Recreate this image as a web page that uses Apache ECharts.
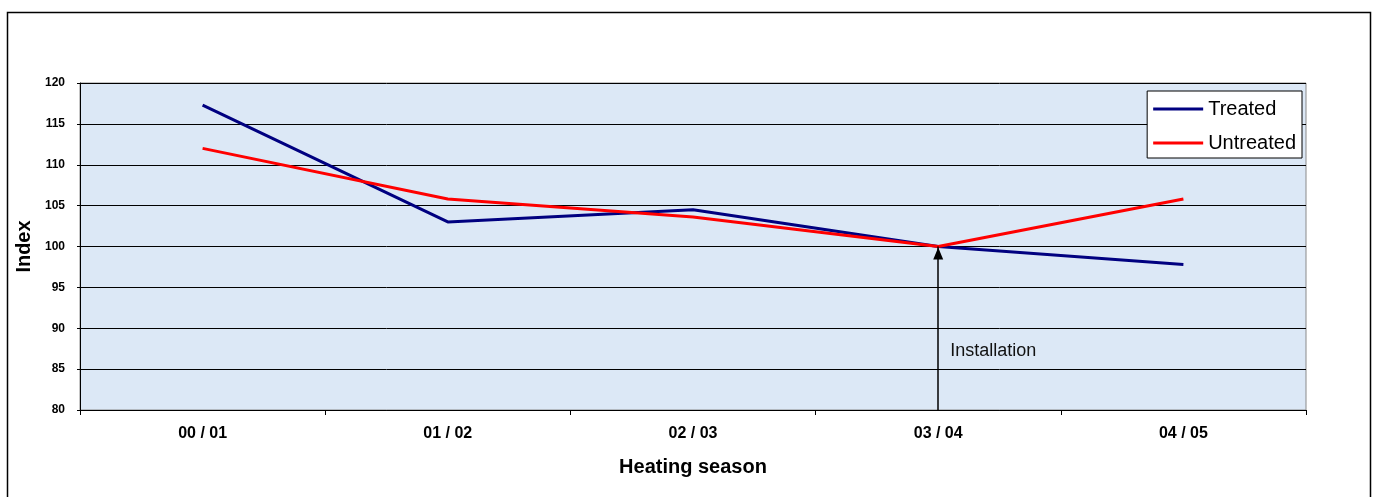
<!DOCTYPE html>
<html>
<head>
<meta charset="utf-8">
<script src="https://cdn.jsdelivr.net/npm/echarts@6/dist/echarts.min.js"></script>
<style>
html,body{margin:0;padding:0;background:#fff;}
#chart{width:1376px;height:497px;}
</style>
</head>
<body>
<div id="chart"></div>
<script>
const seasons = ['00 / 01', '01 / 02', '02 / 03', '03 / 04', '04 / 05'];
const treated = [117.3, 103.0, 104.5, 100.0, 97.8];
const untreated = [112.0, 105.8, 103.6, 100.0, 105.8];
const installationSeason = '03 / 04';
const installationValue = 100;
const yMin = 80, yMax = 120, yStep = 5;

const font = '"Liberation Sans", Arial, sans-serif';
const chart = echarts.init(document.getElementById('chart'));
chart.setOption({
  animation: false,
  backgroundColor: '#ffffff',
  graphic: [{
    type: 'rect', silent: true,
    shape: {x: 7.5, y: 12.5, width: 1363, height: 500},
    style: {fill: 'none', stroke: '#000', lineWidth: 1.5}
  }],
  grid: {
    left: 80, right: 70, top: 83, bottom: 87,
    show: true, backgroundColor: '#dce8f6', borderColor: '#8a8a8a', borderWidth: 1
  },
  legend: {
    orient: 'vertical', right: 74, top: 91,
    backgroundColor: '#ffffff', borderColor: '#000', borderWidth: 1,
    padding: [7, 6, 4, 6], itemGap: 12, itemWidth: 50, itemHeight: 3,
    icon: 'rect',
    textStyle: {fontFamily: font, fontSize: 20, color: '#000', lineHeight: 22},
    data: ['Treated', 'Untreated']
  },
  xAxis: {
    type: 'category', data: seasons, boundaryGap: true,
    name: 'Heating season', nameLocation: 'middle', nameGap: 47,
    nameTextStyle: {fontFamily: font, fontSize: 20, fontWeight: 'bold', color: '#000'},
    axisLine: {lineStyle: {color: '#000', width: 1}},
    axisTick: {show: true, length: 5, lineStyle: {color: '#000'}},
    axisLabel: {fontFamily: font, fontSize: 16, fontWeight: 'bold', color: '#000', margin: 16},
    splitLine: {show: false}
  },
  yAxis: {
    type: 'value', min: yMin, max: yMax, interval: yStep,
    name: 'Index', nameLocation: 'middle', nameGap: 43, nameRotate: 90,
    nameTextStyle: {fontFamily: font, fontSize: 20, fontWeight: 'bold', color: '#000'},
    axisLine: {show: true, lineStyle: {color: '#000', width: 1}},
    axisTick: {show: true, length: 3, lineStyle: {color: '#000'}},
    axisLabel: {fontFamily: font, fontSize: 12, fontWeight: 'bold', color: '#000', margin: 15},
    splitLine: {show: true, lineStyle: {color: '#000', width: 1}}
  },
  series: [
    {
      name: 'Treated', type: 'line', data: treated, symbol: 'none',
      lineStyle: {color: '#000080', width: 3}, itemStyle: {color: '#000080'},
      z: 3
    },
    {
      name: 'Untreated', type: 'line', data: untreated, symbol: 'none',
      lineStyle: {color: '#ff0000', width: 3}, itemStyle: {color: '#ff0000'},
      z: 4,
      markLine: {
        silent: true, symbol: ['none', 'triangle'], symbolSize: [10, 12],
        symbolOffset: [0, [0, 7]],
        lineStyle: {color: '#000', width: 1.5, type: 'solid'},
        label: {show: false},
        data: [[{coord: [installationSeason, yMin]}, {coord: [installationSeason, installationValue]}]]
      },
      markPoint: {
        silent: true, symbol: 'circle', symbolSize: 0,
        label: {show: true, position: 'right', distance: 12, formatter: 'Installation',
          fontFamily: font, fontSize: 18, color: '#111'},
        data: [{coord: [installationSeason, 87.2]}]
      }
    }
  ]
});
</script>
</body>
</html>
